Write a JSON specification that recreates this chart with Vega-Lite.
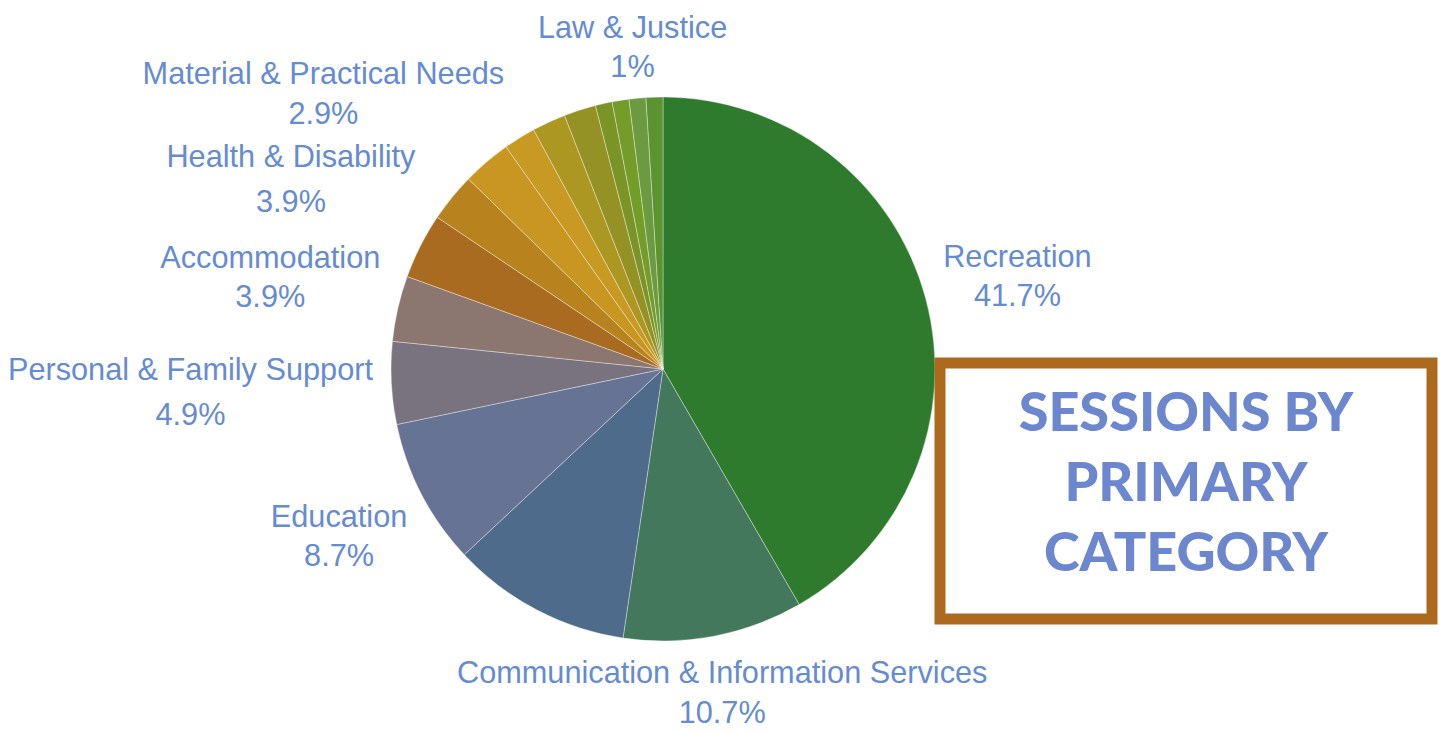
{
  "$schema": "https://vega.github.io/schema/vega-lite/v6.json",
  "padding": 0,
  "background": "#ffffff",
  "config": {"view": {"stroke": null}},
  "datasets": {
    "slices": [
      {"idx": 1, "category": "Recreation", "value": 41.7, "label": "Recreation\n41.7%"},
      {"idx": 2, "category": "Communication & Information Services", "value": 10.7, "label": "Communication & Information Services\n10.7%"},
      {"idx": 3, "category": "Community Services", "value": 10.7, "label": "Community Services\n10.7%"},
      {"idx": 4, "category": "Education", "value": 8.7, "label": "Education\n8.7%"},
      {"idx": 5, "category": "Personal & Family Support", "value": 4.9, "label": "Personal & Family Support\n4.9%"},
      {"idx": 6, "category": "Accommodation", "value": 3.9, "label": "Accommodation\n3.9%"},
      {"idx": 7, "category": "Health & Disability", "value": 3.9, "label": "Health & Disability\n3.9%"},
      {"idx": 8, "category": "Material & Practical Needs", "value": 2.9, "label": "Material & Practical Needs\n2.9%"},
      {"idx": 9, "category": "Employment", "value": 2.9, "label": "Employment\n2.9%"},
      {"idx": 10, "category": "Financial Support", "value": 1.9, "label": "Financial Support\n1.9%"},
      {"idx": 11, "category": "Transport", "value": 2.0, "label": "Transport\n2%"},
      {"idx": 12, "category": "Arts & Culture", "value": 1.9, "label": "Arts & Culture\n1.9%"},
      {"idx": 13, "category": "Environment", "value": 1.0, "label": "Environment\n1%"},
      {"idx": 14, "category": "Advocacy", "value": 1.0, "label": "Advocacy\n1%"},
      {"idx": 15, "category": "Law & Justice", "value": 1.0, "label": "Law & Justice\n1%"},
      {"idx": 16, "category": "Other", "value": 1.0, "label": "Other\n1%"}
    ]
  },
  "hconcat": [
    {
      "width": 386,
      "height": 10,
      "data": {"values": [{}]},
      "mark": {"type": "point", "opacity": 0},
      "encoding": {}
    },
    {
      "width": 554,
      "height": 738,
      "data": {"name": "slices"},
      "encoding": {
        "theta": {"field": "value", "type": "quantitative", "stack": true},
        "order": {"field": "idx", "type": "quantitative"}
      },
      "layer": [
        {
          "mark": {"type": "arc", "outerRadius": 272, "stroke": "#ffffff", "strokeWidth": 0.6, "strokeOpacity": 0.6},
          "encoding": {
            "color": {
              "field": "category",
              "type": "nominal",
              "legend": null,
              "scale": {
                "domain": ["Recreation", "Communication & Information Services", "Community Services", "Education", "Personal & Family Support", "Accommodation", "Health & Disability", "Material & Practical Needs", "Employment", "Financial Support", "Transport", "Arts & Culture", "Environment", "Advocacy", "Law & Justice", "Other"],
                "range": ["#2e7b2e", "#43785c", "#4e6b8b", "#677394", "#78737f", "#8b7670", "#a86b20", "#b8821e", "#c99622", "#c89a24", "#ad9723", "#959225", "#7b9427", "#749c28", "#6b9a40", "#5c9230"]
              }
            }
          }
        },
        {
          "mark": {"type": "text", "radius": 310, "dx": 55, "dy": -31, "align": "center", "baseline": "middle", "lineBreak": "\n", "lineHeight": 39, "font": "Liberation Sans", "fontSize": 30.7, "color": "#658bd1"},
          "encoding": {"text": {"condition": {"test": "datum.category === 'Recreation'", "field": "label"}, "value": ""}}
        },
        {
          "mark": {"type": "text", "radius": 327, "dx": -2, "dy": -16, "align": "center", "baseline": "middle", "lineBreak": "\n", "lineHeight": 40, "font": "Liberation Sans", "fontSize": 30.7, "color": "#658bd1"},
          "encoding": {"text": {"condition": {"test": "datum.category === 'Communication & Information Services'", "field": "label"}, "value": ""}}
        },
        {
          "mark": {"type": "text", "radius": 330, "dx": -31, "dy": -3, "align": "center", "baseline": "middle", "lineBreak": "\n", "lineHeight": 39, "font": "Liberation Sans", "fontSize": 30.7, "color": "#658bd1"},
          "encoding": {"text": {"condition": {"test": "datum.category === 'Education'", "field": "label"}, "value": ""}}
        },
        {
          "mark": {"type": "text", "radius": 330, "dx": -143, "dy": -15, "align": "center", "baseline": "middle", "lineBreak": "\n", "lineHeight": 45, "font": "Liberation Sans", "fontSize": 30.7, "color": "#658bd1"},
          "encoding": {"text": {"condition": {"test": "datum.category === 'Personal & Family Support'", "field": "label"}, "value": ""}}
        },
        {
          "mark": {"type": "text", "radius": 290, "dx": -110, "dy": -45, "align": "center", "baseline": "middle", "lineBreak": "\n", "lineHeight": 39, "font": "Liberation Sans", "fontSize": 30.7, "color": "#658bd1"},
          "encoding": {"text": {"condition": {"test": "datum.category === 'Accommodation'", "field": "label"}, "value": ""}}
        },
        {
          "mark": {"type": "text", "radius": 240, "dx": -158, "dy": -102, "align": "center", "baseline": "middle", "lineBreak": "\n", "lineHeight": 45, "font": "Liberation Sans", "fontSize": 30.7, "color": "#658bd1"},
          "encoding": {"text": {"condition": {"test": "datum.category === 'Health & Disability'", "field": "label"}, "value": ""}}
        },
        {
          "mark": {"type": "text", "radius": 140, "dx": -231, "dy": -206, "align": "center", "baseline": "middle", "lineBreak": "\n", "lineHeight": 40, "font": "Liberation Sans", "fontSize": 30.7, "color": "#658bd1"},
          "encoding": {"text": {"condition": {"test": "datum.category === 'Material & Practical Needs'", "field": "label"}, "value": ""}}
        },
        {
          "mark": {"type": "text", "radius": 324, "dy": -17, "align": "center", "baseline": "middle", "lineBreak": "\n", "lineHeight": 39, "font": "Liberation Sans", "fontSize": 30.7, "color": "#658bd1"},
          "encoding": {"text": {"condition": {"test": "datum.category === 'Law & Justice'", "field": "label"}, "value": ""}}
        }
      ]
    },
    {
      "spacing": 0,
      "bounds": "flush",
      "vconcat": [
        {
          "width": 492,
          "height": 363,
          "data": {"values": [{}]},
          "mark": {"type": "point", "opacity": 0},
          "encoding": {}
        },
        {
          "width": 492,
          "height": 256,
          "view": {"stroke": "#ad6a1e", "strokeWidth": 11, "fill": "#ffffff"},
          "data": {"values": [{"title": "SESSIONS BY\nPRIMARY\nCATEGORY"}]},
          "mark": {"type": "text", "align": "center", "baseline": "middle", "lineBreak": "\n", "lineHeight": 70, "dy": -76, "font": "Lato", "fontWeight": 900, "fontSize": 54, "color": "#6c87cd"},
          "encoding": {"text": {"field": "title", "type": "nominal"}}
        }
      ]
    }
  ],
  "spacing": 0,
  "bounds": "flush"
}
